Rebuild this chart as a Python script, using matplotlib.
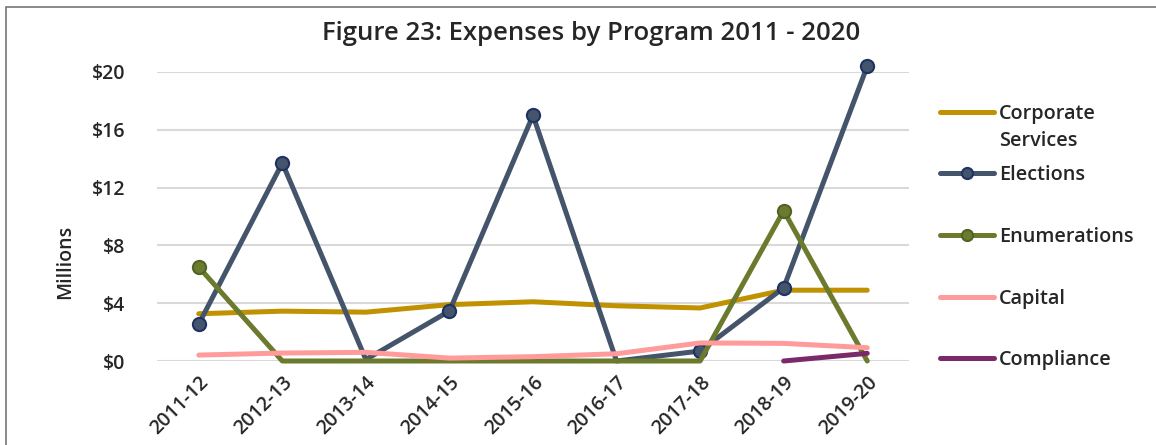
import numpy as np
import matplotlib
matplotlib.use("Agg")
import matplotlib.pyplot as plt
from matplotlib.lines import Line2D
from matplotlib.patches import Rectangle

plt.rcParams['font.family'] = ['Open Sans', 'DejaVu Sans']

# ------------------------------------------------------------
# data (millions of dollars)
# ------------------------------------------------------------
years = ["2011-12", "2012-13", "2013-14", "2014-15", "2015-16",
         "2016-17", "2017-18", "2018-19", "2019-20"]

corporate = [3.27, 3.45, 3.38, 3.9, 4.1, 3.82, 3.67, 4.9, 4.9]
elections = [2.56, 13.7, 0.1, 3.46, 17.0, 0.0, 0.69, 5.07, 20.4]
enumerations = [6.5, 0.0, 0.0, 0.0, 0.0, 0.0, 0.0, 10.4, 0.0]
capital = [0.41, 0.55, 0.6, 0.2, 0.3, 0.5, 1.25, 1.22, 0.92]
compliance = [np.nan, np.nan, np.nan, np.nan, np.nan, np.nan, np.nan, 0.0, 0.53]

labels = ["Corporate\nServices", "Elections", "Enumerations", "Capital", "Compliance"]
yticks = [0, 4, 8, 12, 16, 20]

# ------------------------------------------------------------
# styles
# ------------------------------------------------------------
series = [
    dict(y=corporate, color="#C09100", marker=None, mfc=None, mec=None, every=None),
    dict(y=elections, color="#44546A", marker="o", mfc="#44546A", mec="#1F3264",
         every=[0, 1, 3, 4, 6, 7, 8]),
    dict(y=enumerations, color="#6B7A2C", marker="o", mfc="#6B7A2C", mec="#4F6228",
         every=[0, 7]),
    dict(y=capital, color="#FF9B9B", marker=None, mfc=None, mec=None, every=None),
    dict(y=compliance, color="#7A2A6B", marker=None, mfc=None, mec=None, every=None),
]

W, H = 1156, 445
fig = plt.figure(figsize=(W / 100, H / 100), dpi=100)

# plot area in pixel terms
left, right, top, bottom = 157, 909, 72, 361
ax = fig.add_axes([left / W, 1 - bottom / H, (right - left) / W, (bottom - top) / H])

x = np.arange(len(years))
for s in series:
    ax.plot(x, s["y"], color=s["color"], lw=3.6,
            marker=s["marker"], markersize=9.5, markerfacecolor=s["mfc"],
            markeredgecolor=s["mec"], markeredgewidth=1.5,
            markevery=s["every"], solid_capstyle="round",
            solid_joinstyle="round", clip_on=False, zorder=3)

ax.set_xlim(-0.5, len(years) - 0.5)
ax.set_ylim(0, 20)
ax.set_yticks(yticks)
ax.set_yticklabels([f"${v}" for v in yticks])
ax.set_xticks(x)
ax.set_xticklabels(years, rotation=45, ha="right", rotation_mode="anchor")
ax.grid(axis="y", color="#D9D9D9", lw=1.5)
ax.set_axisbelow(True)
for sp in ax.spines.values():
    sp.set_visible(False)
ax.tick_params(length=0, labelsize=14, colors="#262626")
ax.tick_params(axis="y", pad=23)
ax.tick_params(axis="x", pad=8)
for t in ax.get_xticklabels() + ax.get_yticklabels():
    t.set_fontweight("semibold")

fig.text(65 / W, 1 - 262 / H, "Millions", rotation=90, ha="center", va="center",
         fontsize=14, fontweight="semibold", color="#262626")

fig.text(591 / W, 1 - 33 / H, "Figure 23: Expenses by Program 2011 - 2020",
         ha="center", va="center", fontsize=18.5, fontweight="semibold", color="#262626")

# ------------------------------------------------------------
# legend drawn by hand (line aligned with the first text line)
# ------------------------------------------------------------
leg_y = [112, 173, 235, 297, 358]
for s, lab, yy in zip(series, labels, leg_y):
    fy = 1 - yy / H
    ln = Line2D([940 / W, 994 / W], [fy, fy], transform=fig.transFigure,
                color=s["color"], lw=3.6, solid_capstyle="round")
    fig.add_artist(ln)
    if s["marker"]:
        mk = Line2D([967 / W], [fy], transform=fig.transFigure, marker="o",
                    markersize=8, markerfacecolor=s["mfc"],
                    markeredgecolor=s["mec"], markeredgewidth=1.5, lw=0)
        fig.add_artist(mk)
    fig.text(999 / W, fy + 8 / H, lab, ha="left", va="top", fontsize=14.3,
             fontweight="semibold", color="#262626", linespacing=1.45)

# chart border
fig.add_artist(Rectangle((6 / W, -0.2), 1.2, 1.2 - 7 / H, transform=fig.transFigure,
                         fill=False, edgecolor="#767676", lw=1.2))

fig.savefig("out.png", dpi=100, facecolor="white")
